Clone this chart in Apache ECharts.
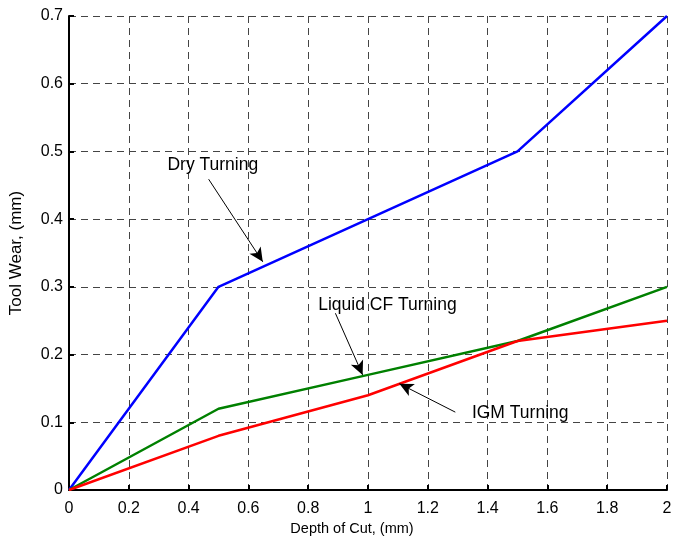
<!DOCTYPE html>
<html><head><meta charset="utf-8">
<script src="https://cdn.jsdelivr.net/npm/echarts@6/dist/echarts.min.js"></script>
<style>html,body{margin:0;padding:0;background:#fff}#c{width:675px;height:542px}</style>
</head><body><div id="c"></div>
<script>
const depth = [0, 0.5, 1, 1.5, 2];
const dryTurning = [0, 0.30, 0.40, 0.50, 0.70];
const liquidCF = [0, 0.12, 0.17, 0.22, 0.30];
const igmTurning = [0, 0.08, 0.14, 0.22, 0.25];
const xTicks = [0, 0.2, 0.4, 0.6, 0.8, 1, 1.2, 1.4, 1.6, 1.8, 2];
const yTicks = [0, 0.1, 0.2, 0.3, 0.4, 0.5, 0.6, 0.7];
// annotations: label, text centre, arrow tail, arrow head (data units)
const notes = [
  {name: 'Dry Turning', text: [0.481, 0.480], tail: [0.467, 0.459], head: [0.648, 0.337]},
  {name: 'Liquid CF Turning', text: [1.065, 0.273], tail: [0.891, 0.261], head: [0.982, 0.170]},
  {name: 'IGM Turning', text: [1.509, 0.113], tail: [1.292, 0.115], head: [1.105, 0.157]}
];
const font = 'Liberation Sans, Arial, Helvetica, sans-serif';
const chart = echarts.init(document.getElementById('c'));
const mk = (arr) => depth.map((x, i) => [x, arr[i]]);
const gridLine = {show: true, lineStyle: {color: '#444', type: [7, 5], width: 1}};
chart.setOption({
  animation: false,
  grid: {left: 68, right: 8, top: 16, bottom: 52},
  xAxis: {
    type: 'value', min: 0, max: 2, interval: 0.2,
    name: 'Depth of Cut, (mm)', nameLocation: 'middle', nameGap: 30,
    nameTextStyle: {color: '#000', fontSize: 14.5, fontFamily: font, padding: [0, 32, 0, 0]},
    axisLine: {show: true, onZero: false, lineStyle: {color: '#000', width: 2}},
    axisTick: {show: true, inside: true, length: 5, lineStyle: {color: '#000', width: 2}},
    axisLabel: {color: '#000', fontSize: 16, fontFamily: font, margin: 11,
      formatter: v => xTicks.includes(+v.toFixed(1)) ? String(+v.toFixed(1)) : ''},
    splitLine: gridLine
  },
  yAxis: {
    type: 'value', min: 0, max: 0.7, interval: 0.1,
    name: 'Tool Wear, (mm)', nameLocation: 'middle', nameGap: 44,
    nameTextStyle: {color: '#000', fontSize: 17, fontFamily: font},
    axisLine: {show: true, lineStyle: {color: '#000', width: 2}},
    axisTick: {show: true, inside: true, length: 5, lineStyle: {color: '#000', width: 2}},
    axisLabel: {color: '#000', fontSize: 16, fontFamily: font, margin: 6,
      formatter: v => yTicks.includes(+v.toFixed(1)) ? String(+v.toFixed(1)) : ''},
    splitLine: gridLine
  },
  series: [
    {name: 'Dry Turning', type: 'line', data: mk(dryTurning), showSymbol: false,
     lineStyle: {color: '#0000ff', width: 2.5}, z: 3},
    {name: 'Liquid CF Turning', type: 'line', data: mk(liquidCF), showSymbol: false,
     lineStyle: {color: '#008000', width: 2.5}, z: 3},
    {name: 'IGM Turning', type: 'line', data: mk(igmTurning), showSymbol: false,
     lineStyle: {color: '#ff0000', width: 2.5}, z: 3},
    {type: 'line', data: [], silent: true, z: 5,
     markLine: {silent: true, symbol: ['none', 'arrow'], symbolSize: [10, 14],
       lineStyle: {color: '#000', width: 1, type: 'solid'}, label: {show: false},
       data: notes.map(n => [{coord: n.tail}, {coord: n.head}])},
     markPoint: {silent: true, symbol: 'circle', symbolSize: 0,
       label: {show: true, color: '#000', fontSize: 17.5, fontFamily: font, position: 'inside',
         formatter: p => p.name},
       data: notes.map(n => ({name: n.name, coord: n.text}))}
    }
  ]
});
</script></body></html>
